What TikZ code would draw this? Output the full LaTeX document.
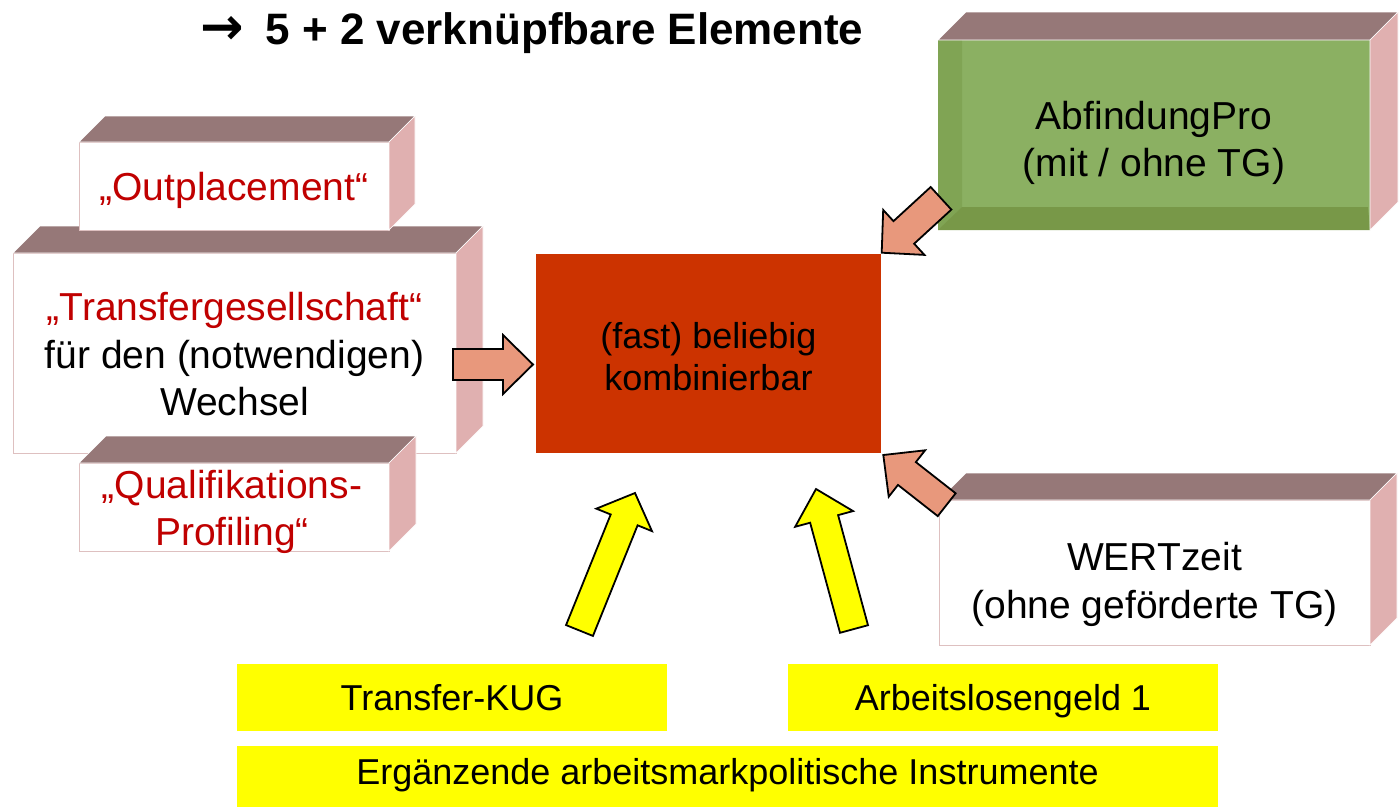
\documentclass[tikz,border=0pt]{standalone}
\usepackage{fontspec}
\setmainfont{Liberation Sans}
\newfontfamily\symfont{DejaVu Sans}
\usetikzlibrary{calc}
\definecolor{topface}{RGB}{150,120,120}
\definecolor{sideface}{RGB}{224,176,176}
\definecolor{edgepink}{RGB}{222,192,192}
\definecolor{txtred}{RGB}{192,0,0}
\definecolor{centerred}{RGB}{204,51,0}
\definecolor{salmonfill}{RGB}{232,152,124}
\definecolor{boxgreen}{RGB}{139,176,98}
\definecolor{greenleft}{RGB}{128,164,84}
\definecolor{greenbottom}{RGB}{120,152,72}
\definecolor{ylw}{RGB}{255,255,0}
\newcommand\boxfs[1]{\fontsize{39}{#1}\selectfont}
\newcommand\midfs[1]{\fontsize{36}{#1}\selectfont}
\newcommand\titlefs{\fontsize{44}{50}\selectfont}
\newcommand\mlines[1]{\begin{tabular}[t]{@{}c@{}}#1\end{tabular}}
\newcommand\cubefaces[2]{%
  \filldraw[fill=topface, draw=white, line width=0.6pt] (#1.north west) -- ++(#2,#2) -- ($(#1.north east)+(#2,#2)$) -- (#1.north east) -- cycle;
  \filldraw[fill=sideface, draw=white, line width=0.6pt] (#1.north east) -- ++(#2,#2) -- ($(#1.south east)+(#2,#2)$) -- (#1.south east) -- cycle;
}
\newcommand\blockarrow[6]{% tail, tip, half shaft, half head, head length, fill
  \coordinate (bah) at ($(#2)!#5pt!(#1)$);
  \draw[barrow, fill=#6]
    ($(#1)!#3pt!90:(#2)$) -- ($(bah)!#3pt!90:(#2)$) -- ($(bah)!#4pt!90:(#2)$) -- (#2)
    -- ($(bah)!#4pt!-90:(#2)$) -- ($(bah)!#3pt!-90:(#2)$) -- ($(#1)!#3pt!-90:(#2)$) -- cycle;
}
\begin{document}
\begin{tikzpicture}[x=1pt,y=1pt,
  front/.style={draw=edgepink, line width=1pt, fill=white, inner sep=0pt, outer sep=0pt},
  plain/.style={inner sep=0pt, outer sep=0pt},
  txt/.style={inner sep=0pt, outer sep=0pt, anchor=base},
  barrow/.style={draw=black, line width=1.8pt, line join=miter},
]
\useasboundingbox (0,0) rectangle (1400,-807);
\fill[white] (0,0) rectangle (1400,-807);

% title
\node[txt, anchor=base west, font=\titlefs\bfseries] (title) at (200,-44)
  {{\symfont\fontsize{52}{52}\selectfont →}\hspace{22pt}5 + 2 verknüpfbare Elemente};

% left stack of boxes
\node[front, minimum width=443, minimum height=200] (tg) at (234.5,-353) {};
\cubefaces{tg}{27}
\node[txt, font=\boxfs{47.5}] (tg-t) at (234.5,-320.7)
  {\mlines{{\color{txtred}„Transfergesellschaft“}\\für den (notwendigen)\\Wechsel}};
\node[front, minimum width=310, minimum height=88] (op) at (234,-186) {};
\cubefaces{op}{26}
\node[txt, font=\boxfs{47}, text=txtred] (op-t) at (234,-200) {„Outplacement“};
\node[front, minimum width=310, minimum height=88] (qp) at (234,-507) {};
\cubefaces{qp}{27}
\node[txt, font=\boxfs{47}, text=txtred] (qp-t) at (232,-498) {\mlines{„Qualifikations-\\Profiling“}};

% green box
\node[plain, minimum width=432, minimum height=190, fill=boxgreen] (ap) at (1154,-135) {};
\fill[greenleft] (ap.north west) -- ++(24,0) -- ($(ap.south west)+(24,23)$) -- (ap.south west) -- cycle;
\fill[greenbottom] (ap.south west) -- ++(24,23) -- ($(ap.south east)+(-2,23)$) -- (ap.south east) -- cycle;
\cubefaces{ap}{28}
\node[txt, font=\boxfs{47}] (ap-t) at (1154,-129) {\mlines{AbfindungPro\\(mit / ohne TG)}};

% WERTzeit box
\node[front, minimum width=431, minimum height=145] (wz) at (1154.5,-572.5) {};
\cubefaces{wz}{27}
\node[txt, font=\boxfs{48}] (wz-t) at (1154.5,-570) {\mlines{WERTzeit\\(ohne geförderte TG)}};

% centre box
\node[plain, fill=centerred, minimum width=345, minimum height=199] (cb) at (708.5,-353.5) {};
\node[txt, font=\midfs{42}] (cb-t) at (708.5,-348) {\mlines{(fast) beliebig\\kombinierbar}};

% yellow boxes
\node[plain, fill=ylw, minimum width=430, minimum height=67] (kug) at (452,-697.5) {};
\node[txt, font=\midfs{43}] (kug-t) at (452,-710) {Transfer-KUG};
\node[plain, fill=ylw, minimum width=430, minimum height=67] (alg) at (1003,-697.5) {};
\node[txt, font=\midfs{43}] (alg-t) at (1003,-710) {Arbeitslosengeld 1};
\node[plain, fill=ylw, minimum width=981, minimum height=61] (ergi) at (727.5,-776.5) {};
\node[txt, font=\midfs{43}] (ergi-t) at (727.5,-784) {Ergänzende arbeitsmarkpolitische Instrumente};

% arrow end points
\coordinate (y1s) at (579.5,-630.5);
\coordinate (y1e) at (635,-493);
\coordinate (y2s) at (854,-629);
\coordinate (y2e) at (816,-489);
\coordinate (s1s) at (453,-364.5);
\coordinate (s1e) at (533,-364.5);
\coordinate (s2s) at (941,-198.3);
\coordinate (s2e) at (881.7,-252.7);
\coordinate (s3s) at (946.7,-504.7);
\coordinate (s3e) at (883.3,-455);

\blockarrow{y1s}{y1e}{14.5}{30}{29}{ylw}
\blockarrow{y2s}{y2e}{14.5}{30}{31}{ylw}
\blockarrow{s1s}{s1e}{15.5}{29.5}{30}{salmonfill}
\blockarrow{s2s}{s2e}{15.3}{30.5}{30}{salmonfill}
\blockarrow{s3s}{s3e}{14.5}{29.5}{30}{salmonfill}
\end{tikzpicture}
\end{document}
